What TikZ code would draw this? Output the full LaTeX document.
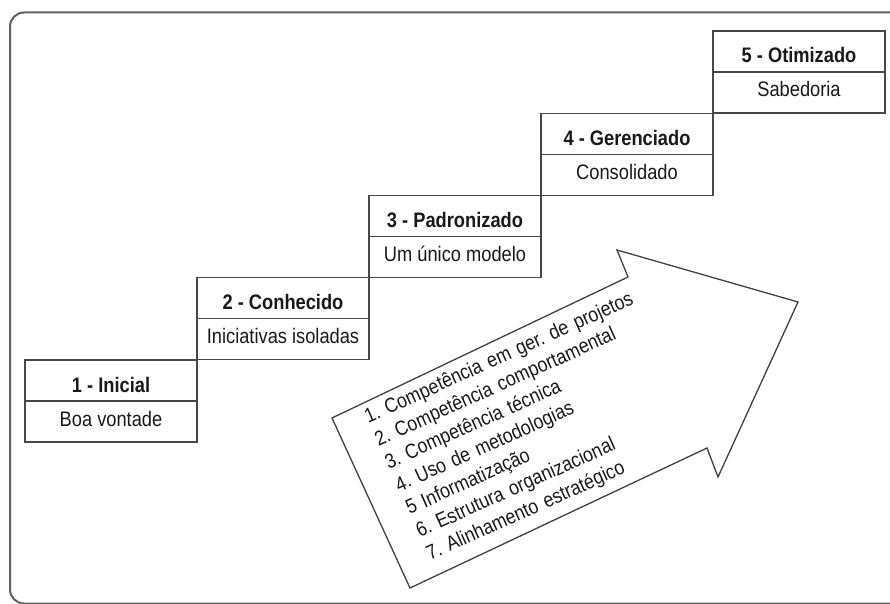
\documentclass[tikz,border=0pt]{standalone}
\usepackage{fontspec}
\setmainfont{Liberation Sans}[FakeStretch=0.87]
\begin{document}
\frenchspacing
\begin{tikzpicture}[x=1pt,y=1pt,
  frame/.style={draw=black!62, line width=2pt, rounded corners=14pt},
  boxbase/.style={draw=black!72, line width=1.4pt, minimum width=172pt, minimum height=41pt, inner sep=0pt, text=black!90},
  hdr/.style={boxbase, text height=32pt, text depth=9pt, font=\fontsize{21}{25}\selectfont\bfseries},
  bdy/.style={boxbase, text height=25pt, text depth=16pt, font=\fontsize{21}{25}\selectfont},
  bigarrow/.style={draw=black!75, line width=1.3pt, line join=miter},
  itemlist/.style={anchor=base west, inner sep=0pt, text width=330pt, align=left, font=\fontsize{20.5}{25.08}\selectfont\frenchspacing, text=black!90}
]
\useasboundingbox (0,0) rectangle (890,603);
\begin{scope}
  \clip (0,0) rectangle (890,603);
  \draw[frame] (10,-0.5) rectangle (905,590.5);
\end{scope}

% staircase boxes
\node[hdr] (h1) at (111,222.5) {1 - Inicial};
\node[bdy] (b1) at (111,181.5) {Boa vontade};
\node[hdr] (h2) at (283,304.75) {2 - Conhecido};
\node[bdy] (b2) at (283,263.75) {Iniciativas isoladas};
\node[hdr] (h3) at (455,387) {3 - Padronizado};
\node[bdy] (b3) at (455,346) {Um único modelo};
\node[hdr] (h4) at (627,469.25) {4 - Gerenciado};
\node[bdy] (b4) at (627,428.25) {Consolidado};
\node[hdr] (h5) at (799,551.5) {5 - Otimizado};
\node[bdy] (b5) at (799,510.5) {Sabedoria};

% big arrow
\draw[bigarrow] (410,15) -- (332,185) -- (628,326) -- (617,353) -- (798,301) -- (718,126) -- (707,155) -- cycle;

% arrow text
\node[itemlist, rotate=24.2] (items) at (368.2,179.5) {1. Competência em ger. de projetos\\
2. Competência comportamental\\
3. Competência técnica\\
4. Uso de metodologias\\
5 Informatização\\
6. Estrutura organizacional\\
7. Alinhamento estratégico};
\end{tikzpicture}
\end{document}
